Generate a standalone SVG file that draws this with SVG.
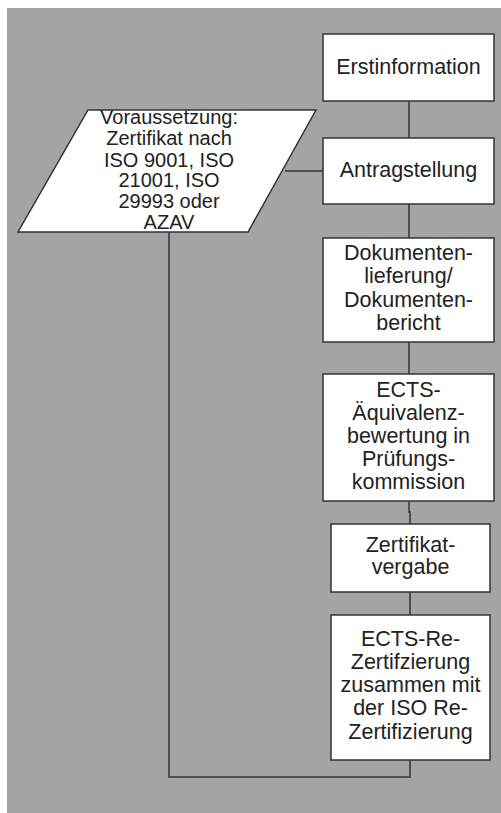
<svg xmlns="http://www.w3.org/2000/svg" width="501" height="813" viewBox="0 0 501 813">
<style>
.box{fill:#fff;stroke:#333;stroke-width:1.5}
.ln{fill:none;stroke:#333;stroke-width:1.5}
text{font-family:"Liberation Sans",Arial,sans-serif;font-size:21.5px;fill:#222;text-anchor:middle}
.sm{font-size:20px}
</style>
<rect x="0" y="0" width="501" height="813" fill="#fff"/>
<rect x="7" y="8" width="494" height="805" fill="#a4a4a4"/>
<g id="connectors">
<line class="ln" x1="409" y1="101" x2="409" y2="138"/>
<line class="ln" x1="409" y1="204" x2="409" y2="238"/>
<line class="ln" x1="409" y1="342" x2="409" y2="374"/>
<polyline class="ln" points="409,501 409,512 410,512 410,524"/>
<line class="ln" x1="410" y1="592" x2="410" y2="615"/>
<line class="ln" x1="285" y1="171" x2="323" y2="171"/>
<polyline class="ln" points="410,760 410,777 169,777 169,232"/>
</g>
<g id="n_voraussetzung">
<polygon class="box" points="88,110 316,110 248,232 18,232"/>
<text class="sm" x="169" y="124.3">Voraussetzung:</text>
<text class="sm" x="169" y="145">Zertifikat nach</text>
<text class="sm" x="169" y="166.5">ISO 9001, ISO</text>
<text class="sm" x="169" y="187">21001, ISO</text>
<text class="sm" x="169" y="208">29993 oder</text>
<text class="sm" x="169" y="228.5">AZAV</text>
</g>
<g id="n_erstinformation">
<rect class="box" x="323" y="34" width="171" height="67"/>
<text x="408.5" y="74">Erstinformation</text>
</g>
<g id="n_antragstellung">
<rect class="box" x="323" y="138" width="171" height="66"/>
<text x="408.5" y="177">Antragstellung</text>
</g>
<g id="n_dokumente">
<rect class="box" x="323" y="238" width="171" height="104"/>
<text x="408.5" y="260">Dokumenten-</text>
<text x="408.5" y="283">lieferung/</text>
<text x="408.5" y="306.5">Dokumenten-</text>
<text x="408.5" y="330">bericht</text>
</g>
<g id="n_ects">
<rect class="box" x="323" y="374" width="171" height="127"/>
<text x="408.5" y="396.5">ECTS-</text>
<text x="408.5" y="419.5">Äquivalenz-</text>
<text x="408.5" y="442.5">bewertung in</text>
<text x="408.5" y="465.5">Prüfungs-</text>
<text x="408.5" y="489">kommission</text>
</g>
<g id="n_zertifikat">
<rect class="box" x="331" y="524" width="159" height="68"/>
<text x="410.5" y="551.5">Zertifikat-</text>
<text x="410.5" y="574">vergabe</text>
</g>
<g id="n_rezert">
<rect class="box" x="331" y="615" width="159" height="145"/>
<text x="410.5" y="646">ECTS-Re-</text>
<text x="410.5" y="668.5">Zertifzierung</text>
<text x="410.5" y="691.5">zusammen mit</text>
<text x="410.5" y="715">der ISO Re-</text>
<text x="410.5" y="738.5">Zertifizierung</text>
</g>
</svg>
